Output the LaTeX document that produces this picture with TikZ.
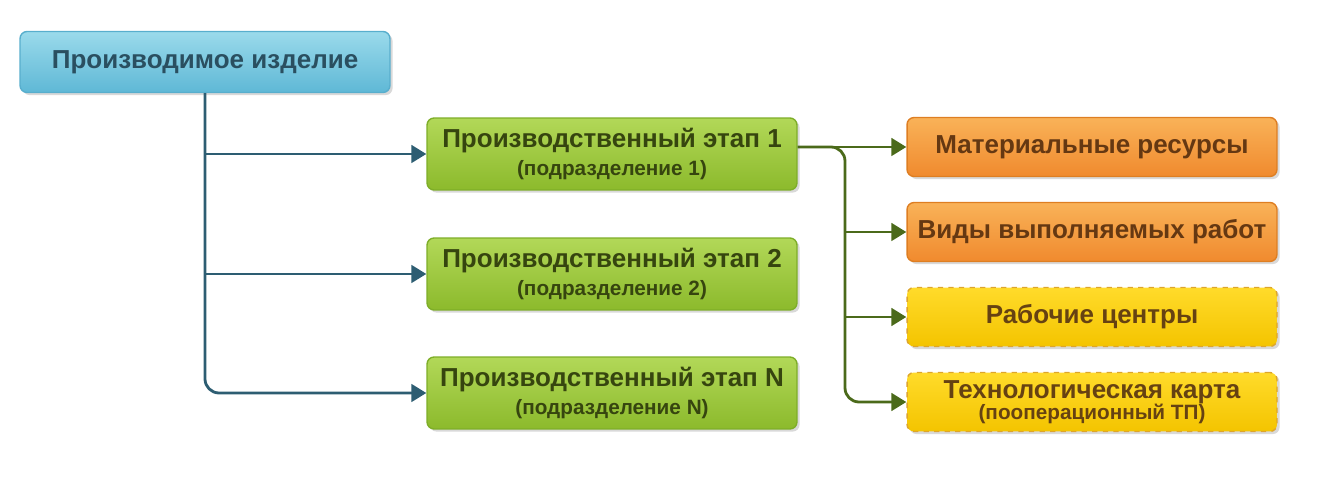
\documentclass[tikz,border=0pt]{standalone}
\usepackage{fontspec}
\setmainfont{Liberation Sans}
\usepackage{tikz}
\usepackage{xcolor}
\usetikzlibrary{positioning,calc}
\usetikzlibrary{shadows,arrows.meta}

\definecolor{prodtop}{HTML}{9ADAEB}
\definecolor{prodbot}{HTML}{5FB8D6}
\definecolor{prodline}{HTML}{58AECD}
\definecolor{prodtext}{HTML}{2A4F60}
\definecolor{stagetop}{HTML}{B2D858}
\definecolor{stagebot}{HTML}{8CBA2C}
\definecolor{stageline}{HTML}{7EAE28}
\definecolor{stagetext}{HTML}{36450F}
\definecolor{restop}{HTML}{F9B258}
\definecolor{resbot}{HTML}{F08A2E}
\definecolor{resline}{HTML}{DE7E22}
\definecolor{restext}{HTML}{653812}
\definecolor{wctop}{HTML}{FFDB2A}
\definecolor{wcbot}{HTML}{F4C400}
\definecolor{wcline}{HTML}{DDA52C}
\definecolor{wctext}{HTML}{664212}
\definecolor{bluelinkc}{HTML}{2D5D72}
\definecolor{greenlinkc}{HTML}{4B6A1A}

\newcommand{\subtxt}[1]{{\fontsize{11.8}{13}\selectfont #1}}

\begin{document}
\begin{tikzpicture}[x=0.02cm,y=-0.02cm,
    card/.style={rectangle, rounded corners=4pt, minimum width=7.4cm, align=center,
        font=\bfseries\fontsize{14.8}{17}\selectfont, line width=0.8pt,
        drop shadow={opacity=0.3, shadow xshift=1.5pt, shadow yshift=-1.5pt}},
    prodbox/.style={card, minimum height=1.22cm, draw=prodline, top color=prodtop, bottom color=prodbot, text=prodtext},
    stagebox/.style={card, minimum height=1.44cm, draw=stageline, top color=stagetop, bottom color=stagebot, text=stagetext},
    resbox/.style={card, minimum height=1.18cm, draw=resline, top color=restop, bottom color=resbot, text=restext},
    wcbox/.style={card, minimum height=1.18cm, draw=wcline, dashed, top color=wctop, bottom color=wcbot, text=wctext},
    bluelink/.style={-{Triangle[length=8.5pt,width=10pt]}, draw=bluelinkc, line width=1.6pt},
    greenlink/.style={-{Triangle[length=8.5pt,width=10pt]}, draw=greenlinkc, line width=1.6pt}]
        \useasboundingbox (0,0) rectangle (1334,482);

        \node[prodbox] (prod) at (205,62) {Производимое изделие};

        \node[stagebox] (st1) at (612,154) {Производственный этап 1\\[-1pt]\subtxt{(подразделение 1)}};
        \node[stagebox] (st2) at (612,274) {Производственный этап 2\\[-1pt]\subtxt{(подразделение 2)}};
        \node[stagebox] (stN) at (612,393) {Производственный этап N\\[-1pt]\subtxt{(подразделение N)}};

        \node[resbox] (mat) at (1092,147) {Материальные ресурсы};
        \node[resbox] (work) at (1092,232) {Виды выполняемых работ};
        \node[wcbox] (wc) at (1092,317) {Рабочие центры};
        \node[wcbox] (tech) at (1092,402) {Технологическая карта\\[-5pt]\subtxt{(пооперационный ТП)}};

        \draw[bluelink, rounded corners=8pt] (prod.south) |- (stN.west);
        \draw[bluelink] (prod.south |- st1.west) -- (st1.west);
        \draw[bluelink] (prod.south |- st2.west) -- (st2.west);

        \coordinate (fork) at (845,147);
        \draw[greenlink] (st1.east |- mat.west) -- (mat.west);
        \draw[greenlink, rounded corners=8pt] (st1.east |- mat.west) -| (fork |- tech.west) -- (tech.west);
        \draw[greenlink] (fork |- work.west) -- (work.west);
        \draw[greenlink] (fork |- wc.west) -- (wc.west);
    \end{tikzpicture}
\end{document}
